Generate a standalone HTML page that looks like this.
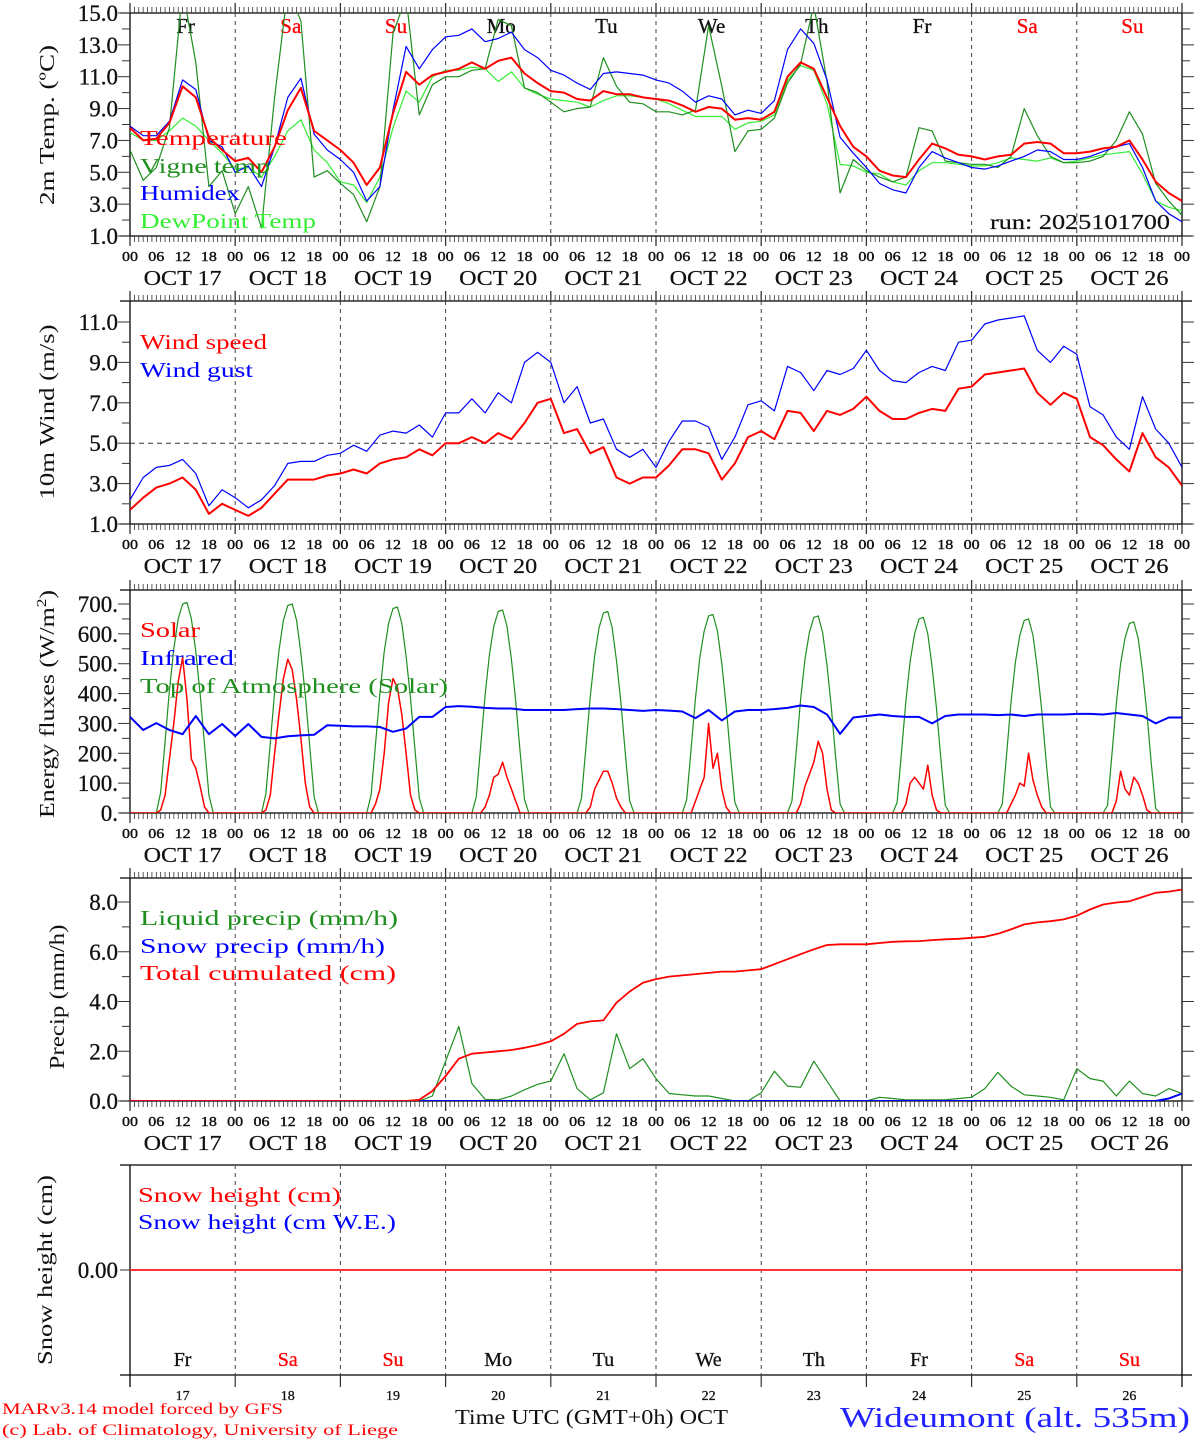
<!DOCTYPE html>
<html><head><meta charset="utf-8"><title>Wideumont meteogram</title>
<style>
html,body{margin:0;padding:0;background:#fff;}
svg{display:block;font-family:"Liberation Serif",serif;}
</style></head>
<body>
<svg id="chart" width="1194" height="1440" viewBox="0 0 1194 1440" xmlns="http://www.w3.org/2000/svg">
<defs>
<clipPath id="cp1"><rect x="130" y="13" width="1052" height="223"/></clipPath>
<clipPath id="cp2"><rect x="130" y="301" width="1052" height="223"/></clipPath>
<clipPath id="cp3"><rect x="130" y="590" width="1052" height="223"/></clipPath>
<clipPath id="cp4"><rect x="130" y="878" width="1052" height="223"/></clipPath>
<clipPath id="cp5"><rect x="130" y="1165" width="1052" height="210"/></clipPath>
</defs>
</svg>
<script>
// ---------- data (3-hourly unless noted, 00 UTC Oct 17 .. 00 UTC Oct 27) ----------
const dayNumbers = ['17','18','19','20','21','22','23','24','25','26'];
const dayNames = ['Fr','Sa','Su','Mo','Tu','We','Th','Fr','Sa','Su'];
const weekendDays = [false,true,true,false,false,false,false,false,true,true];
const hourLabels = ['00','06','12','18'];

const temperature = [7.8,7.0,7.1,8.1,10.4,9.7,7.2,6.4, 5.7,5.9,5.0,6.6,8.9,10.3,7.6,7.0, 6.4,5.6,4.2,5.3,8.7,11.3,10.5,11.1, 11.3,11.5,11.9,11.5,12.0,12.2,11.2,10.6, 10.1,10.0,9.6,9.5,10.1,9.9,9.9,9.7, 9.6,9.5,9.2,8.8,9.1,9.0,8.3,8.4, 8.3,8.8,11.0,11.9,11.5,9.7,7.9,6.6, 6.0,5.1,4.8,4.7,5.8,6.8,6.5,6.1, 6.0,5.8,6.0,6.1,6.8,6.9,6.8,6.2, 6.2,6.3,6.5,6.6,7.0,5.8,4.4,3.7,3.2];
const vigneTemp = [6.4,4.5,5.3,7.8,16.5,11.9,4.1,5.1, 2.4,4.1,1.5,9.7,16.5,14.5,4.7,5.1, 4.3,3.6,1.9,4.1,13.7,16.0,8.6,10.5, 11.0,11.0,11.4,11.5,14.6,14.2,10.3,10.0, 9.4,8.8,9.0,9.1,12.2,10.4,9.4,9.3, 8.8,8.8,8.6,8.9,14.2,10.4,6.3,7.6, 7.7,8.4,10.6,11.8,15.5,10.7,3.7,5.8, 5.1,4.7,4.4,4.7,7.8,7.6,5.7,5.6, 5.5,5.5,5.3,6.0,9.0,7.3,6.0,5.6, 5.6,5.7,6.0,7.0,8.8,7.4,4.3,3.2,2.3];
const humidex = [7.9,7.3,7.3,8.2,10.8,10.2,7.0,6.6, 5.0,5.4,4.1,6.6,9.7,10.9,7.4,6.4, 5.8,5.0,3.2,4.1,8.9,12.9,11.5,12.7, 13.5,13.6,14.0,13.2,13.4,13.8,12.7,12.2, 11.4,11.1,10.6,10.2,11.2,11.3,11.2,11.1, 10.8,10.6,10.1,9.4,9.8,9.6,8.6,8.9, 8.7,9.5,12.7,14.0,13.1,10.8,7.2,6.2, 5.3,4.3,3.9,3.7,5.3,6.3,5.9,5.6, 5.3,5.2,5.4,5.7,6.0,6.4,6.3,5.8, 5.8,6.0,6.3,6.6,6.8,5.3,3.2,2.4,1.9];
const dewPoint = [7.5,7.0,7.0,7.6,8.4,7.9,7.0,6.2, 5.2,5.3,4.7,6.0,7.6,8.3,6.4,5.6, 4.4,4.2,3.1,4.7,7.8,10.1,9.4,11.0, 11.4,11.4,11.6,11.5,10.7,11.3,10.3,9.9, 9.6,9.5,9.4,9.1,9.5,9.8,9.8,9.7, 9.6,9.3,8.9,8.5,8.5,8.5,7.7,8.1, 8.2,8.6,10.8,11.7,11.4,9.3,5.5,5.4, 5.0,4.9,4.4,4.2,5.1,5.6,5.6,5.5, 5.4,5.4,5.6,5.9,5.8,5.7,5.9,5.6, 5.7,5.9,6.1,6.2,6.3,4.9,3.2,2.8,2.6];

const windSpeed = [1.7,2.3,2.8,3.0,3.3,2.7,1.5,2.0, 1.7,1.4,1.8,2.5,3.2,3.2,3.2,3.4, 3.5,3.7,3.5,4.0,4.2,4.3,4.7,4.4, 5.0,5.0,5.3,5.0,5.5,5.2,6.0,7.0, 7.2,5.5,5.7,4.5,4.8,3.3,3.0,3.3, 3.3,3.9,4.7,4.7,4.5,3.2,4.0,5.3, 5.6,5.2,6.6,6.5,5.6,6.6,6.4,6.7, 7.3,6.6,6.2,6.2,6.5,6.7,6.6,7.7, 7.8,8.4,8.5,8.6,8.7,7.5,6.9,7.5, 7.2,5.3,4.9,4.2,3.6,5.5,4.3,3.8,2.9];
const windGust = [2.2,3.3,3.8,3.9,4.2,3.5,1.9,2.7, 2.3,1.8,2.2,2.9,4.0,4.1,4.1,4.4, 4.5,4.9,4.6,5.4,5.6,5.5,5.9,5.3, 6.5,6.5,7.2,6.5,7.5,7.0,9.0,9.5, 9.0,7.0,7.8,6.0,6.2,4.7,4.3,4.7, 3.8,5.1,6.1,6.1,5.8,4.2,5.3,6.9, 7.1,6.6,8.8,8.5,7.6,8.6,8.4,8.7, 9.6,8.6,8.1,8.0,8.5,8.8,8.6,10.0, 10.1,10.9,11.1,11.2,11.3,9.6,9.0,9.8, 9.4,6.8,6.4,5.3,4.7,7.3,5.7,5.0,3.8];

// hourly (241 values)
const solar = [
0,0,0,0,0,0,0,10,60,180,300,440,520,380,180,150,90,20,0,0,0,0,0,0,
0,0,0,0,0,0,0,10,60,200,330,450,515,480,380,250,100,20,0,0,0,0,0,0,
0,0,0,0,0,0,0,0,30,80,200,370,450,420,330,200,60,10,0,0,0,0,0,0,
0,0,0,0,0,0,0,0,0,20,60,120,130,170,120,80,40,0,0,0,0,0,0,0,
0,0,0,0,0,0,0,0,0,20,80,110,140,140,100,50,20,0,0,0,0,0,0,0,
0,0,0,0,0,0,0,0,0,40,80,120,300,150,200,80,20,0,0,0,0,0,0,0,
0,0,0,0,0,0,0,0,0,30,90,130,170,240,200,80,10,0,0,0,0,0,0,0,
0,0,0,0,0,0,0,0,0,30,100,120,100,80,160,60,10,0,0,0,0,0,0,0,
0,0,0,0,0,0,0,0,0,30,60,100,90,200,110,60,20,0,0,0,0,0,0,0,
0,0,0,0,0,0,0,0,0,40,140,80,60,120,100,60,10,0,0,0,0,0,0,0,
0];
const topOfAtmosphere = [
0,0,0,0,0,0,0,70,240,410,550,650,700,705,650,540,400,230,60,0,0,0,0,0,
0,0,0,0,0,0,0,65,235,405,545,645,695,700,645,535,395,225,55,0,0,0,0,0,
0,0,0,0,0,0,0,60,230,400,540,635,685,690,635,525,385,215,50,0,0,0,0,0,
0,0,0,0,0,0,0,55,225,395,530,625,675,680,625,515,375,205,45,0,0,0,0,0,
0,0,0,0,0,0,0,50,220,390,525,620,670,675,620,510,370,200,40,0,0,0,0,0,
0,0,0,0,0,0,0,45,215,385,520,610,660,665,610,500,360,190,35,0,0,0,0,0,
0,0,0,0,0,0,0,40,210,380,515,605,655,660,605,495,355,185,30,0,0,0,0,0,
0,0,0,0,0,0,0,35,205,375,510,600,650,655,600,490,350,180,25,0,0,0,0,0,
0,0,0,0,0,0,0,30,200,370,505,595,645,650,595,485,345,175,20,0,0,0,0,0,
0,0,0,0,0,0,0,25,195,365,500,585,635,640,585,475,335,165,15,0,0,0,0,0,
0];
// 3-hourly
const infrared = [322,278,301,278,264,325,264,298, 258,298,255,250,257,260,262,294, 292,290,290,288,272,283,322,322, 355,358,356,352,350,350,345,345, 345,345,348,350,350,348,345,342, 345,343,340,318,345,310,340,345, 345,348,352,360,355,330,265,320, 325,330,325,322,322,300,325,330, 330,330,328,330,325,330,330,330, 332,332,330,335,330,325,300,320,320];

const liquidPrecip = [0,0,0,0,0,0,0,0, 0,0,0,0,0,0,0,0, 0,0,0,0,0,0,0,0.2, 1.6,3.0,0.7,0.07,0.05,0.2,0.45,0.67, 0.8,1.9,0.5,0.05,0.33,2.7,1.3,1.7, 0.9,0.3,0.25,0.2,0.2,0.1,0,0, 0.33,1.2,0.6,0.55,1.6,0.8,0,0, 0,0.15,0.1,0.05,0.05,0.05,0.05,0.1, 0.15,0.5,1.15,0.6,0.25,0.2,0.15,0.05, 1.3,0.9,0.8,0.2,0.8,0.3,0.2,0.5,0.3];
const snowPrecip = [0,0,0,0,0,0,0,0, 0,0,0,0,0,0,0,0, 0,0,0,0,0,0,0,0, 0,0,0,0,0,0,0,0, 0,0,0,0,0,0,0,0, 0,0,0,0,0,0,0,0, 0,0,0,0,0,0,0,0, 0,0,0,0,0,0,0,0, 0,0,0,0,0,0,0,0, 0,0,0,0,0,0,0,0.1,0.3];
const totalCumulated = [0,0,0,0,0,0,0,0, 0,0,0,0,0,0,0,0, 0,0,0,0,0,0,0.05,0.4, 1.0,1.7,1.9,1.95,2.0,2.05,2.14,2.25, 2.4,2.7,3.1,3.2,3.24,3.95,4.4,4.75, 4.9,5.0,5.05,5.1,5.15,5.2,5.2,5.25, 5.3,5.5,5.7,5.9,6.1,6.27,6.3,6.3, 6.3,6.35,6.4,6.42,6.43,6.47,6.5,6.52, 6.56,6.6,6.72,6.9,7.1,7.18,7.23,7.3, 7.45,7.7,7.9,7.98,8.03,8.2,8.37,8.42,8.5];

const snowHeightCm = [0,0,0,0,0,0,0,0, 0,0,0,0,0,0,0,0, 0,0,0,0,0,0,0,0, 0,0,0,0,0,0,0,0, 0,0,0,0,0,0,0,0, 0,0,0,0,0,0,0,0, 0,0,0,0,0,0,0,0, 0,0,0,0,0,0,0,0, 0,0,0,0,0,0,0,0, 0,0,0,0,0,0,0,0,0];
const snowHeightWE = [0,0,0,0,0,0,0,0, 0,0,0,0,0,0,0,0, 0,0,0,0,0,0,0,0, 0,0,0,0,0,0,0,0, 0,0,0,0,0,0,0,0, 0,0,0,0,0,0,0,0, 0,0,0,0,0,0,0,0, 0,0,0,0,0,0,0,0, 0,0,0,0,0,0,0,0, 0,0,0,0,0,0,0,0,0];

const tempTicks = [1,3,5,7,9,11,13,15];
const windTicks = [1,3,5,7,9,11];
const energyTicks = [0,100,200,300,400,500,600,700];
const precipTicks = [0,2,4,6,8];

// ---------- geometry ----------
const NS = 'http://www.w3.org/2000/svg';
const svg = document.getElementById('chart');
const X0 = 130, X1 = 1182, TOTAL_H = 240;
const DAYW = (X1 - X0) / 10;
function xScale(h){ return X0 + h * (X1 - X0) / TOTAL_H; }

const panels = {
  temp:   {top:13,  bottom:236,  vmin:1, vmax:15,  yMin:236,  yMax:13,  clip:'cp1'},
  wind:   {top:301, bottom:524,  vmin:1, vmax:11,  yMin:524,  yMax:322, clip:'cp2'},
  energy: {top:590, bottom:813,  vmin:0, vmax:700, yMin:813,  yMax:604, clip:'cp3'},
  precip: {top:878, bottom:1101, vmin:0, vmax:8,   yMin:1101, yMax:902, clip:'cp4'},
  snow:   {top:1165,bottom:1375, vmin:-1,vmax:1,   yMin:1375, yMax:1165,clip:'cp5'}
};
function yScale(p, v){ return p.yMin + (v - p.vmin) * (p.yMax - p.yMin) / (p.vmax - p.vmin); }

function mk(tag, attrs, name, parent){
  const el = document.createElementNS(NS, tag);
  for (const k in attrs) el.setAttribute(k, attrs[k]);
  
  
  (parent || svg).appendChild(el);
  return el;
}
function txt(x, y, s, size, color, name, opts){
  opts = opts || {};
  const a = {x:x, y:y, 'font-size':size, fill:color};
  if (opts.anchor) a['text-anchor'] = opts.anchor;
  if (opts.len) { a.textLength = opts.len; a.lengthAdjust = 'spacingAndGlyphs'; }
  if (opts.transform) a.transform = opts.transform;
  if (opts.bold) { a.stroke = color; a['stroke-width'] = opts.bold; }
  const el = mk('text', a, name);
  el.textContent = s;
  return el;
}
function line(x1,y1,x2,y2,stroke,w,name,dash){
  const a = {x1:x1,y1:y1,x2:x2,y2:y2,stroke:stroke,'stroke-width':w};
  if (dash) a['stroke-dasharray'] = dash;
  return mk('line', a, name);
}
function series(p, arr, color, w, name, stepH){
  const step = TOTAL_H / (arr.length - 1);
  let d = '';
  for (let i = 0; i < arr.length; i++){
    const x = xScale(i * step), y = yScale(p, arr[i]);
    d += (i ? 'L' : 'M') + x.toFixed(1) + ' ' + y.toFixed(1);
  }
  return mk('path', {d:d, fill:'none', stroke:color, 'stroke-width':w, 'stroke-linejoin':'round', 'clip-path':'url(#'+p.clip+')'}, name);
}

function frame(p, key, ticks, minorStep, fmt, withHours){
  line(120, p.top, 1192, p.top, '#000', 1.3, key + '-top-border');
  line(120, p.bottom, 1192, p.bottom, '#000', 1.3, key + '-bottom-border');
  line(X0, p.top, X0, p.bottom, '#000', 1.3, key + '-left-axis');
  line(X1, p.top, X1, p.bottom, '#000', 1.3, key + '-right-axis');
  for (let h = 0; h <= TOTAL_H; h++){
    const x = xScale(h);
    const major = h % 24 === 0;
    line(x, p.top - (major ? 10 : 6), x, p.top, '#333', major ? 1.3 : 0.8, key + '-top-tick');
    if (withHours) line(x, p.bottom, x, p.bottom + (major ? 10 : 6), '#333', major ? 1.3 : 0.8, key + '-bottom-tick');
  }
  for (let d = 1; d < 10; d++){
    const x = X0 + d * DAYW;
    line(x, p.top, x, p.bottom, '#444', 1, key + '-day-separator', '4,4');
  }
  if (ticks){
    const lo = ticks[0], hi = ticks[ticks.length-1];
    for (let v = lo; v <= hi + 1e-9; v += minorStep){
      const y = yScale(p, v);
      const major = ticks.some(t => Math.abs(t - v) < 1e-6);
      line(X0 - (major ? 12 : 8), y, X0, y, '#333', 1, key + '-y-tick');
      line(X1, y, X1 + (major ? 12 : 8), y, '#333', 1, key + '-y-tick-right');
    }
    ticks.forEach(t => {
      txt(118, yScale(p, t) + 8, fmt(t), 23, '#111', key + '-y-tick-label', {anchor:'end', bold:0.3});
    });
  }
  if (withHours){
    for (let d = 0; d <= 10; d++){
      for (let k = 0; k < 4; k++){
        if (d === 10 && k > 0) break;
        const x = xScale(d * 24 + k * 6);
        txt(x, p.bottom + 25, hourLabels[k], 14, '#111', key + '-hour-label', {anchor:'middle', len:16, bold:0.4});
      }
      if (d < 10) txt(X0 + (d + 0.5) * DAYW, p.bottom + 49, 'OCT  ' + dayNumbers[d], 21, '#111', key + '-date-label', {anchor:'middle', len:78, bold:0.2});
    }
  }
}

// ---------- panel 1: temperature ----------
const P1 = panels.temp;
frame(P1, 'temp', tempTicks, 1, v => v.toFixed(1), true);
for (let d = 0; d < 10; d++){
  txt(X0 + (d + 0.5) * DAYW + 3, 33, dayNames[d], 21, weekendDays[d] ? '#ff0000' : '#111', 'temp-day-name', {anchor:'middle', bold:0.3});
}
series(P1, dewPoint, '#33ee33', 1.2, 'dewpoint-line');
series(P1, vigneTemp, '#1f8f1f', 1.2, 'vigne-temp-line');
series(P1, humidex, '#0000ff', 1.2, 'humidex-line');
series(P1, temperature, '#ff0000', 2, 'temperature-line');
txt(140, 145, 'Temperature', 21, '#ff0000', 'legend-temperature', {len:147});
txt(140, 173, 'Vigne temp', 21, '#1f8f1f', 'legend-vigne-temp', {len:130});
txt(140, 200, 'Humidex', 21, '#0000ff', 'legend-humidex', {len:100});
txt(140, 228, 'DewPoint Temp', 21, '#33ee33', 'legend-dewpoint', {len:176});
txt(1170, 229, 'run: 2025101700', 21, '#111', 'run-label', {anchor:'end', len:180, bold:0.2});
txt(54, 125, '2m Temp. (\u00BAC)', 21, '#111', 'temp-y-axis-title', {anchor:'middle', len:160, transform:'rotate(-90 54 125)'});

// ---------- panel 2: wind ----------
const P2 = panels.wind;
frame(P2, 'wind', windTicks, 1, v => v.toFixed(1), true);
line(X0, yScale(P2, 5), X1, yScale(P2, 5), '#333', 1, 'wind-5ms-reference-line', '5,4');
series(P2, windGust, '#0000ff', 1.2, 'wind-gust-line');
series(P2, windSpeed, '#ff0000', 2, 'wind-speed-line');
txt(140, 349, 'Wind speed', 21, '#ff0000', 'legend-wind-speed', {len:127});
txt(140, 377, 'Wind gust', 21, '#0000ff', 'legend-wind-gust', {len:113});
txt(54, 412, '10m Wind (m/s)', 21, '#111', 'wind-y-axis-title', {anchor:'middle', len:175, transform:'rotate(-90 54 412)'});

// ---------- panel 3: energy ----------
const P3 = panels.energy;
frame(P3, 'energy', energyTicks, 50, v => v + '.', true);
series(P3, topOfAtmosphere, '#1f8f1f', 1.2, 'toa-solar-line');
series(P3, solar, '#ff0000', 1.5, 'solar-line');
series(P3, infrared, '#0000ff', 2, 'infrared-line');
txt(140, 637, 'Solar', 21, '#ff0000', 'legend-solar', {len:60});
txt(140, 665, 'Infrared', 21, '#0000ff', 'legend-infrared', {len:94});
txt(140, 693, 'Top of Atmosphere (Solar)', 21, '#1f8f1f', 'legend-toa', {len:308});
(function(){
  const el = mk('text', {x:54, y:704, 'font-size':21, fill:'#111', 'text-anchor':'middle', textLength:228, lengthAdjust:'spacingAndGlyphs', transform:'rotate(-90 54 704)'}, 'energy-y-axis-title');
  el.textContent = 'Energy fluxes (W/m';
  const sup = mk('tspan', {'font-size':14, dy:-8}, 'energy-title-superscript', el);
  sup.textContent = '2';
  const cl = mk('tspan', {dy:8}, 'energy-title-close', el);
  cl.textContent = ')';
})();

// ---------- panel 4: precipitation ----------
const P4 = panels.precip;
frame(P4, 'precip', precipTicks, 1, v => v.toFixed(1), true);
series(P4, liquidPrecip, '#1f8f1f', 1.2, 'liquid-precip-line');
series(P4, snowPrecip, '#0000ff', 2, 'snow-precip-line');
series(P4, totalCumulated, '#ff0000', 1.8, 'total-cumulated-line');
txt(140, 925, 'Liquid precip (mm/h)', 21, '#1f8f1f', 'legend-liquid-precip', {len:258});
txt(140, 953, 'Snow precip (mm/h)', 21, '#0000ff', 'legend-snow-precip', {len:245});
txt(140, 980, 'Total cumulated (cm)', 21, '#ff0000', 'legend-total-cumulated', {len:256});
txt(64, 997, 'Precip (mm/h)', 21, '#111', 'precip-y-axis-title', {anchor:'middle', len:145, transform:'rotate(-90 64 997)'});

// ---------- panel 5: snow height ----------
const P5 = panels.snow;
line(120, P5.top, 1192, P5.top, '#000', 1.3, 'snow-top-border');
line(120, P5.bottom, 1192, P5.bottom, '#000', 1.3, 'snow-bottom-border');
line(X0, P5.top, X0, P5.bottom + 12, '#000', 1.3, 'snow-left-axis');
line(X1, P5.top, X1, P5.bottom + 12, '#000', 1.3, 'snow-right-axis');
for (let d = 1; d < 10; d++){
  const x = X0 + d * DAYW;
  line(x, P5.top, x, P5.bottom, '#444', 1, 'snow-day-separator', '4,4');
  line(x, P5.bottom, x, P5.bottom + 12, '#333', 1.2, 'snow-day-tick');
}
line(120, yScale(P5, 0), X0, yScale(P5, 0), '#333', 1, 'snow-y-tick');
txt(118, 1278, '0.00', 23, '#111', 'snow-y-tick-label', {anchor:'end', bold:0.3});
series(P5, snowHeightWE, '#0000ff', 2, 'snow-height-we-line');
series(P5, snowHeightCm, '#ff3333', 2, 'snow-height-cm-line');
txt(138, 1202, 'Snow height (cm)', 21, '#ff0000', 'legend-snow-height-cm', {len:203});
txt(138, 1229, 'Snow height (cm W.E.)', 21, '#0000ff', 'legend-snow-height-we', {len:258});
txt(52, 1270, 'Snow height (cm)', 21, '#111', 'snow-y-axis-title', {anchor:'middle', len:190, transform:'rotate(-90 52 1270)'});
for (let d = 0; d < 10; d++){
  const cx = X0 + (d + 0.5) * DAYW;
  txt(cx, 1366, dayNames[d], 20, weekendDays[d] ? '#ff0000' : '#111', 'snow-day-name', {anchor:'middle', bold:0.3});
  txt(cx, 1400, dayNumbers[d], 14, '#111', 'day-number-label', {anchor:'middle', bold:0.3});
}

// ---------- footer ----------
txt(2, 1414, 'MARv3.14 model forced by GFS', 16, '#ff0000', 'model-credit', {len:281});
txt(2, 1435, '(c) Lab. of Climatology, University of Liege', 16, '#ff0000', 'lab-credit', {len:396});
txt(455, 1424, 'Time UTC (GMT+0h) OCT', 21, '#111', 'x-axis-title', {len:273});
txt(1190, 1427, 'Wideumont (alt. 535m)', 29, '#2222ff', 'station-title', {anchor:'end', len:350});
</script>
</body></html>
